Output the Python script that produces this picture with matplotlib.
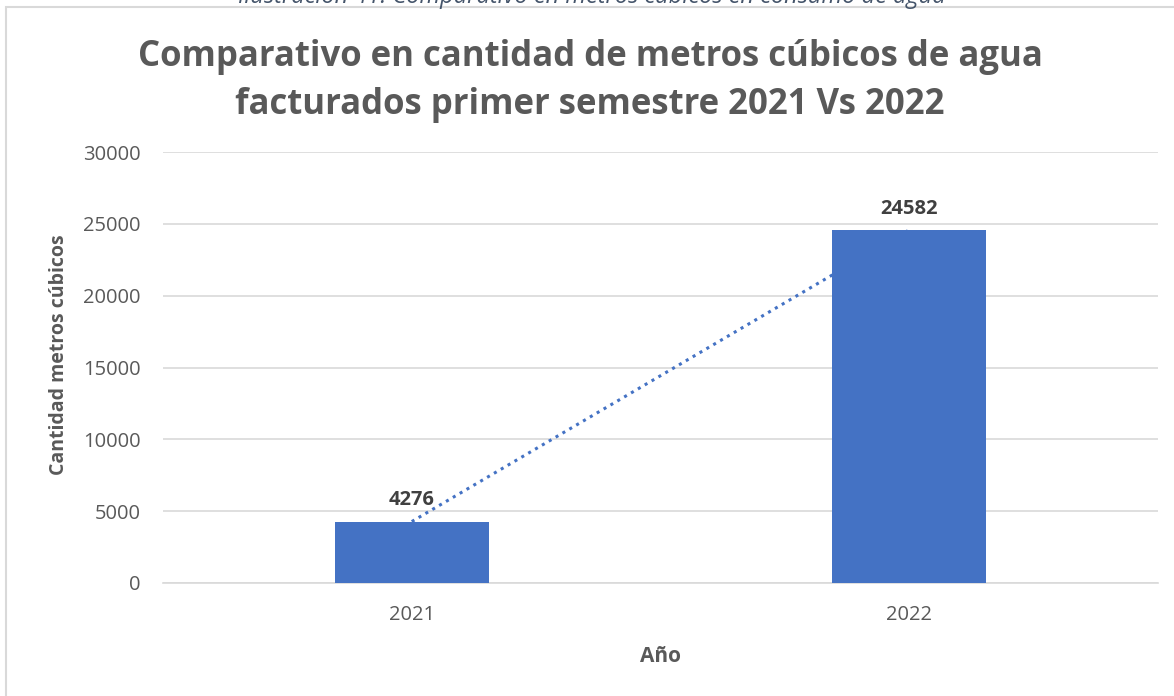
import numpy as np
import matplotlib
matplotlib.use('Agg')
import matplotlib.pyplot as plt
from matplotlib.patches import Rectangle

years = ['2021', '2022']
cubic_meters = [4276, 24582]
y_ticks = [0, 5000, 10000, 15000, 20000, 25000, 30000]

plt.rcParams['font.family'] = ['Open Sans', 'DejaVu Sans']

W, H = 1174, 696
fig = plt.figure(figsize=(W / 100, H / 100), dpi=100)
ax = fig.add_axes([163 / W, 1 - 583 / H, (1158 - 163) / W, (583 - 152) / H])

x = np.arange(len(years))
# trendline sits behind the bars
coef = np.polyfit(x, cubic_meters, 1)
ax.plot(x, np.polyval(coef, x), linestyle=(0, (1, 1.6)), color='#4472C4',
        linewidth=2.2, zorder=2)
ax.bar(x, cubic_meters, width=0.31, color='#4472C4', zorder=3)

for xi, v in zip(x, cubic_meters):
    ax.annotate(str(v), (xi, v), xytext=(0, 8), textcoords='offset points',
                ha='center', va='bottom', fontsize=14.5, fontweight='bold', color='#404040')

ax.set_xlim(-0.5, 1.5)
ax.set_ylim(0, 30000)
ax.set_yticks(y_ticks)
ax.set_xticks(x)
ax.set_xticklabels(years)
ax.tick_params(length=0, labelsize=14.5, labelcolor='#595959')
ax.tick_params(axis='y', pad=16)
ax.tick_params(axis='x', pad=16)
ax.grid(axis='y', color='#D9D9D9', linewidth=1.2, zorder=0)
ax.set_axisbelow(True)
for s in ['top', 'right', 'left']:
    ax.spines[s].set_visible(False)
ax.spines['bottom'].set_color('#D9D9D9')
ax.spines['bottom'].set_linewidth(1.2)

ax.set_xlabel('Año', fontsize=15, fontweight='bold', color='#595959', labelpad=15)
ax.set_ylabel('Cantidad metros cúbicos', fontsize=14, fontweight='bold', color='#595959')
ax.yaxis.set_label_coords(-0.0945, 0.529)

fig.text(590 / W, 1 - 81 / H, 'Comparativo en cantidad de metros cúbicos de agua\nfacturados primer semestre 2021 Vs 2022',
         ha='center', va='center', fontsize=25, fontweight='bold', color='#595959', linespacing=1.42)

# caption cut off at the top of the image
fig.text(592 / W, 1 - 3 / H, 'Ilustración 41: Comparativo en metros cúbicos en consumo de agua',
         ha='center', va='baseline', fontsize=17, style='italic', color='#44546A')

# chart frame
fig.patches.append(Rectangle((6 / W, -0.1), 1.2, 1 - 7 / H + 0.1, transform=fig.transFigure,
                             fill=False, edgecolor='#D9D9D9', linewidth=1.5))

fig.savefig('out.png', dpi=100)
